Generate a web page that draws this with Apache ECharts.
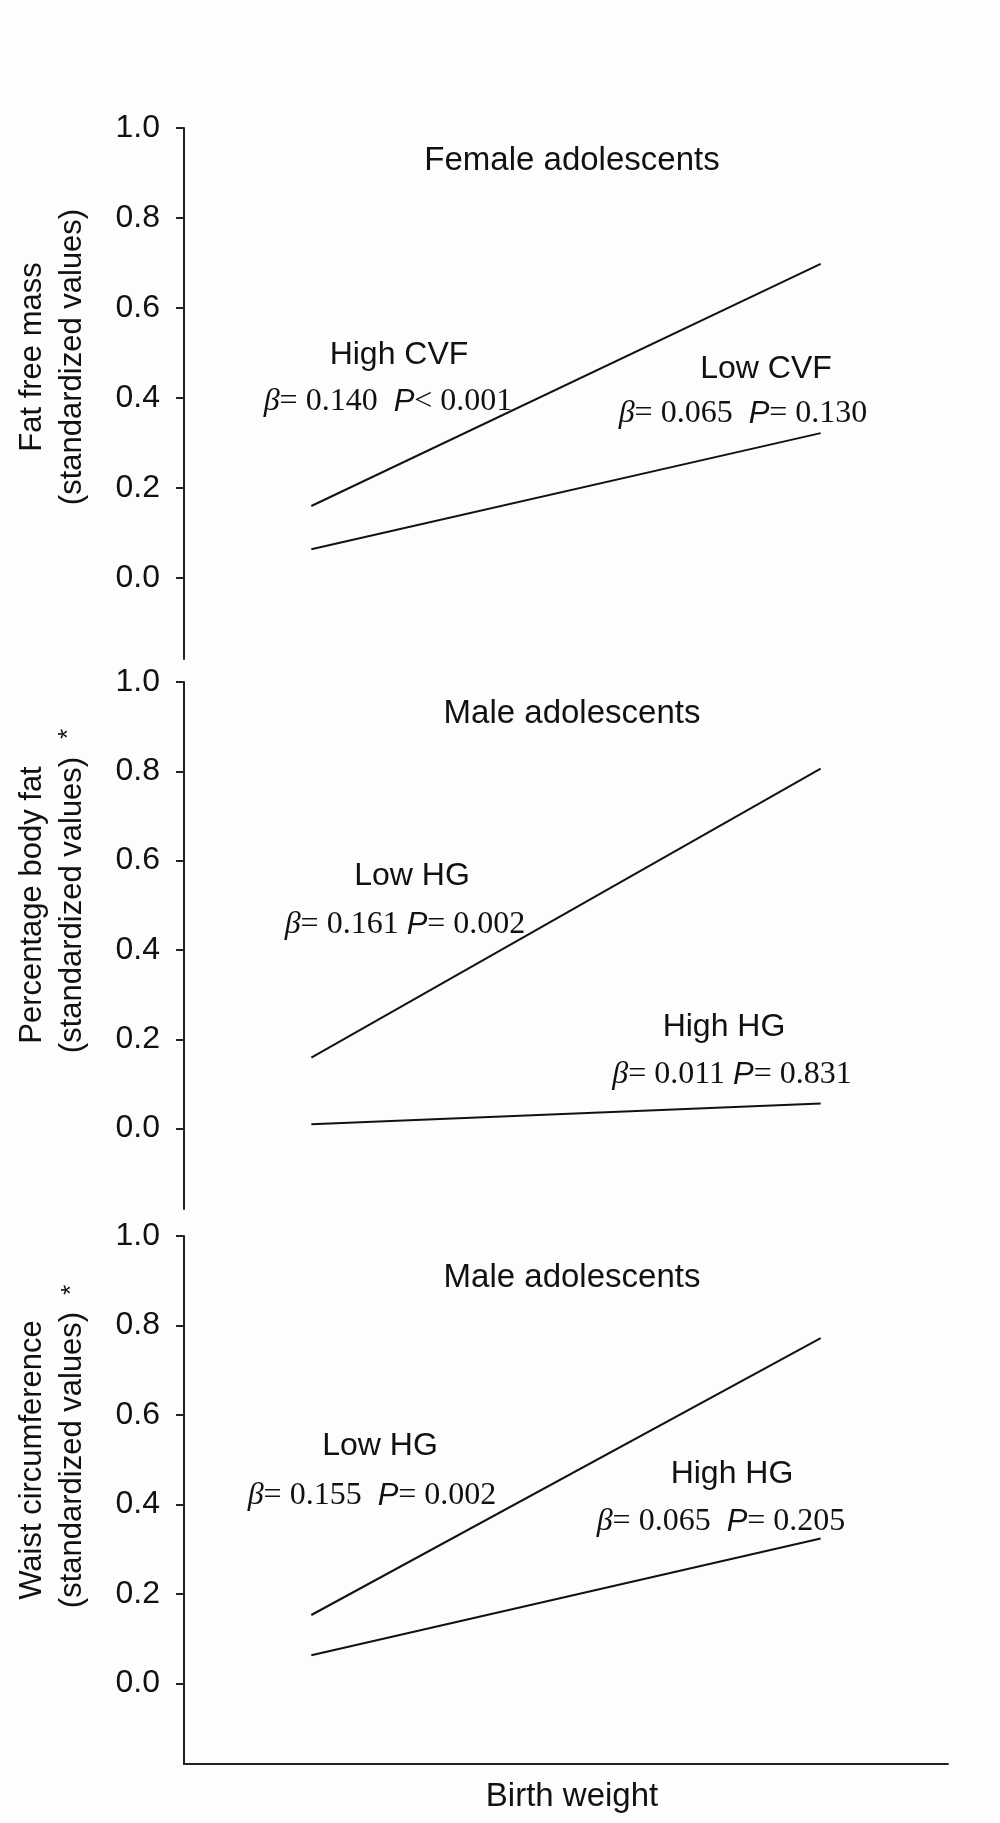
<!DOCTYPE html>
<html>
<head>
<meta charset="utf-8">
<script src="https://cdn.jsdelivr.net/npm/echarts@6/dist/echarts.min.js"></script>
<style>
  html, body { margin: 0; padding: 0; background: #fdfdfd; }
  #chart { width: 1000px; height: 1823px; }
</style>
</head>
<body>
<div id="chart"></div>
<script>
// ---- data ----
const xValues = [1, 5];               // low / high birth weight on a 0..6 axis
const ffmHighCVF = [0.160, 0.698];
const ffmLowCVF  = [0.064, 0.322];
const pbfLowHG   = [0.159, 0.806];
const pbfHighHG  = [0.010, 0.056];
const wcLowHG    = [0.153, 0.772];
const wcHighHG   = [0.063, 0.324];
const yTicks = [0, 0.2, 0.4, 0.6, 0.8, 1.0];
const panelTitles = ['Female adolescents', 'Male adolescents', 'Male adolescents'];
const yTitles = [
  ['Fat free mass', '(standardized values)'],
  ['Percentage body fat', '(standardized values)'],
  ['Waist circumference', '(standardized values)']
];
const xTitle = 'Birth weight';

// ---- layout ----
const grids = [
  { left: 184, right: 52, top: 128, height: 531 },
  { left: 184, right: 52, top: 682, height: 527 },
  { left: 184, right: 52, top: 1236, height: 528 }
];
const INK = '#111';
const SANS = 'Liberation Sans, Arial, Helvetica, sans-serif';
const SERIF = 'Liberation Serif, Times New Roman, serif';

const xAxes = grids.map((g, i) => ({
  type: 'value', gridIndex: i, min: 0, max: 6,
  show: i === 2,
  axisLine: { show: true, onZero: false, lineStyle: { color: '#222', width: 2 } },
  axisTick: { show: false }, axisLabel: { show: false }, splitLine: { show: false }
}));
const yAxes = grids.map((g, i) => ({
  type: 'value', gridIndex: i, min: -0.18, max: 1,
  axisLine: { show: true, onZero: false, lineStyle: { color: '#222', width: 2 } },
  axisTick: { show: true, inside: false, length: 8, customValues: yTicks, lineStyle: { color: '#222', width: 2 } },
  axisLabel: {
    show: true, customValues: yTicks, margin: 24,
    formatter: v => v.toFixed(1),
    fontFamily: SANS, fontSize: 32, color: INK
  },
  splitLine: { show: false }
}));

function lineSeries(vals, idx) {
  return {
    type: 'line', xAxisIndex: idx, yAxisIndex: idx,
    data: xValues.map((x, k) => [x, vals[k]]),
    symbol: 'none', silent: true,
    lineStyle: { color: INK, width: 2 }
  };
}
const series = [
  lineSeries(ffmHighCVF, 0), lineSeries(ffmLowCVF, 0),
  lineSeries(pbfLowHG, 1), lineSeries(pbfHighHG, 1),
  lineSeries(wcLowHG, 2), lineSeries(wcHighHG, 2)
];

// ---- annotations ----
const richStyle = {
  b: { fontFamily: SERIF, fontStyle: 'italic', fontSize: 32, color: INK },
  n: { fontFamily: SERIF, fontSize: 32, color: INK },
  p: { fontFamily: SANS, fontStyle: 'italic', fontSize: 31, color: INK }
};
function stat(beta, rel, p, gap) {
  return '{b|β}{n|= ' + beta + gap + '}{p|P}{n|' + rel + ' ' + p + '}';
}
function txt(text, x, y, size) {
  return { type: 'text', x: x, y: y, silent: true,
    style: { text: text, fontFamily: SANS, fontSize: size || 32, fill: INK, align: 'center', verticalAlign: 'middle' } };
}
function rtxt(text, x, y) {
  return { type: 'text', x: x, y: y, silent: true,
    style: { text: text, rich: richStyle, fill: INK, align: 'center', verticalAlign: 'middle' } };
}
function vtxt(text, x, y, size) {
  return { type: 'text', x: x, y: y, rotation: Math.PI / 2, silent: true,
    style: { text: text, fontFamily: SANS, fontSize: size || 31, fill: INK, align: 'center', verticalAlign: 'middle' } };
}

const graphics = [
  txt(panelTitles[0], 572, 161, 33),
  txt('High CVF', 399, 355),
  rtxt(stat('0.140', '<', '0.001', '  '), 388, 402),
  txt('Low CVF', 766, 369),
  rtxt(stat('0.065', '=', '0.130', '  '), 743, 414),

  txt(panelTitles[1], 572, 714, 33),
  txt('Low HG', 412, 876),
  rtxt(stat('0.161', '=', '0.002', ' '), 405, 925),
  txt('High HG', 724, 1027),
  rtxt(stat('0.011', '=', '0.831', ' '), 732, 1075),

  txt(panelTitles[2], 572, 1278, 33),
  txt('Low HG', 380, 1446),
  rtxt(stat('0.155', '=', '0.002', '  '), 372, 1496),
  txt('High HG', 732, 1474),
  rtxt(stat('0.065', '=', '0.205', '  '), 721, 1522),

  vtxt(yTitles[0][0], 32, 357), vtxt(yTitles[0][1], 72, 357),
  vtxt(yTitles[1][0], 32, 905), vtxt(yTitles[1][1], 72, 905), vtxt('*', 69, 734, 26),
  vtxt(yTitles[2][0], 32, 1460), vtxt(yTitles[2][1], 72, 1460), vtxt('*', 72, 1290, 26),

  txt(xTitle, 572, 1797, 33)
];

const chart = echarts.init(document.getElementById('chart'), null, { renderer: 'canvas' });
chart.setOption({
  backgroundColor: '#fdfdfd',
  animation: false,
  grid: grids,
  xAxis: xAxes,
  yAxis: yAxes,
  series: series,
  graphic: graphics
});
</script>
</body>
</html>
